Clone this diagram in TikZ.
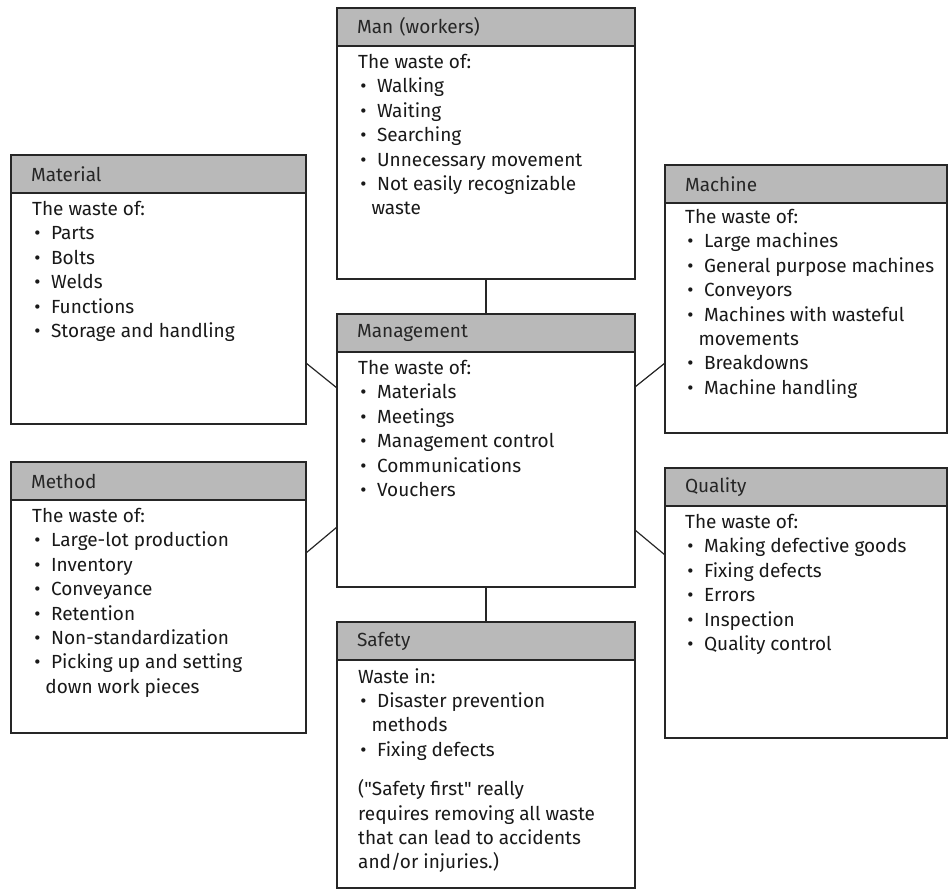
\documentclass[tikz,border=0pt]{standalone}
\usepackage{fontspec}
\setmainfont{Fira Sans}
\usetikzlibrary{positioning}
\newcommand{\itm}{\hspace*{0.12em}\textbullet\hspace{0.55em}}
\newcommand{\cnt}{\hspace*{0.7em}}
\tikzset{
      headbar/.style={
        draw=black!85,
        line width=1.3pt,
        fill=gray!55,
        text=black!85,
        anchor=north west,
        minimum height=38pt,
        inner xsep=20pt,
        inner ysep=0pt,
        outer sep=0pt,
        align=left,
        font=\fontsize{19}{23}\selectfont
      },
      bodyframe/.style={
        draw=black!85,
        line width=1.3pt,
        fill=white,
        outer sep=0pt,
        inner sep=0pt
      },
      listtext/.style={
        anchor=north west,
        align=left,
        inner sep=0pt,
        text=black!90,
        font=\fontsize{19}{24.4}\selectfont
      },
      link/.style={line width=1.2pt, draw=black!85}
    }
\begin{document}
\begin{tikzpicture}[x=1pt,y=-1pt]
    \useasboundingbox (0,0) rectangle (948,892);
    % centre column
    \node[headbar, text width=258pt] (manH) at (337,8) {Man (workers)};
    \node[bodyframe, minimum width=298pt, minimum height=233pt, below=0pt of manH] (man) {};
    \node[listtext] (manT) at ([xshift=21pt,yshift=-8pt]man.north west) {The waste of:\\ \itm Walking\\ \itm Waiting\\ \itm Searching\\ \itm Unnecessary movement\\ \itm Not easily recognizable\\ \cnt waste};

    \node[headbar, text width=258pt] (mgmtH) at (337,314) {Management};
    \node[bodyframe, minimum width=298pt, minimum height=235pt, below=0pt of mgmtH] (mgmt) {};
    \node[listtext] (mgmtT) at ([xshift=21pt,yshift=-8pt]mgmt.north west) {The waste of:\\ \itm Materials\\ \itm Meetings\\ \itm Management control\\ \itm Communications\\ \itm Vouchers};

    \node[headbar, text width=258pt] (safeH) at (337,622) {Safety};
    \node[bodyframe, minimum width=298pt, minimum height=228pt, below=0pt of safeH] (safe) {};
    \node[listtext] (safeT) at ([xshift=21pt,yshift=-8pt]safe.north west) {Waste in:\\ \itm Disaster prevention\\ \cnt methods\\ \itm Fixing defects\\[15pt] (\textquotedbl Safety first\textquotedbl{} really\\ requires removing all waste\\ that can lead to accidents\\ and/or injuries.)};

    % left column
    \node[headbar, text width=255pt] (matH) at (11,155) {Material};
    \node[bodyframe, minimum width=295pt, minimum height=231pt, below=0pt of matH] (mat) {};
    \node[listtext] (matT) at ([xshift=21pt,yshift=-8pt]mat.north west) {The waste of:\\ \itm Parts\\ \itm Bolts\\ \itm Welds\\ \itm Functions\\ \itm Storage and handling};

    \node[headbar, text width=255pt] (methH) at (11,462) {Method};
    \node[bodyframe, minimum width=295pt, minimum height=233pt, below=0pt of methH] (meth) {};
    \node[listtext] (methT) at ([xshift=21pt,yshift=-8pt]meth.north west) {The waste of:\\ \itm Large-lot production\\ \itm Inventory\\ \itm Conveyance\\ \itm Retention\\ \itm Non-standardization\\ \itm Picking up and setting\\ \cnt down work pieces};

    % right column
    \node[headbar, text width=242pt] (machH) at (665,165) {Machine};
    \node[bodyframe, minimum width=282pt, minimum height=230pt, below=0pt of machH] (mach) {};
    \node[listtext] (machT) at ([xshift=20pt,yshift=-6pt]mach.north west) {The waste of:\\ \itm Large machines\\ \itm General purpose machines\\ \itm Conveyors\\ \itm Machines with wasteful\\ \cnt movements\\ \itm Breakdowns\\ \itm Machine handling};

    \node[headbar, text width=242pt] (qualH) at (665,468) {Quality};
    \node[bodyframe, minimum width=282pt, minimum height=232pt, below=0pt of qualH] (qual) {};
    \node[listtext] (qualT) at ([xshift=20pt,yshift=-8pt]qual.north west) {The waste of:\\ \itm Making defective goods\\ \itm Fixing defects\\ \itm Errors\\ \itm Inspection\\ \itm Quality control};

    % connectors
    \draw[link] (man.south) -- (mgmtH.north);
    \draw[link] (mgmt.south) -- (safeH.north);
    \draw[link] ([yshift=-170pt]mat.north east) -- ([yshift=-36pt]mgmt.north west);
    \draw[link] ([yshift=-35pt]mgmt.north east) -- ([yshift=-160pt]mach.north west);
    \draw[link] ([yshift=-53pt]meth.north east) -- ([yshift=-175pt]mgmt.north west);
    \draw[link] ([yshift=-178pt]mgmt.north east) -- ([yshift=-49pt]qual.north west);
    \end{tikzpicture}
\end{document}
